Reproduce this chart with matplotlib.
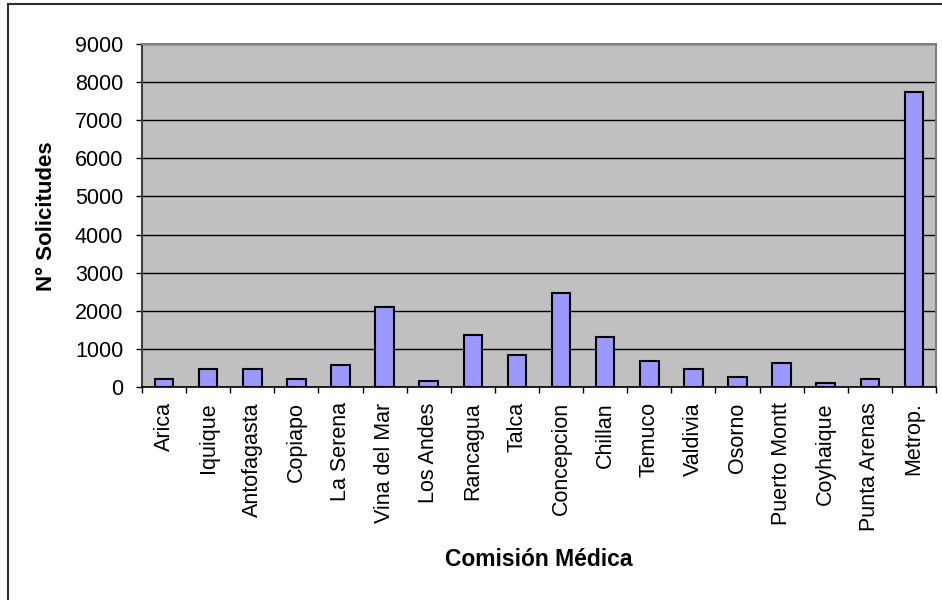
import matplotlib.pyplot as plt
from matplotlib.lines import Line2D

# datos
comisiones = ["Arica", "Iquique", "Antofagasta", "Copiapo", "La Serena",
              "Vina del Mar", "Los Andes", "Rancagua", "Talca", "Concepcion",
              "Chillan", "Temuco", "Valdivia", "Osorno", "Puerto Montt",
              "Coyhaique", "Punta Arenas", "Metrop."]
solicitudes = [200, 470, 470, 200, 570, 2100, 150, 1360, 830, 2470,
               1310, 680, 470, 250, 620, 100, 210, 7750]
y_ticks = list(range(0, 9001, 1000))

plt.rcParams['font.family'] = ['Liberation Sans', 'DejaVu Sans']

fig = plt.figure(figsize=(9.42, 6.0), dpi=100)
ax = fig.add_axes([142 / 942, 1 - 387 / 600, (936 - 142) / 942, (387 - 44) / 600])

x = list(range(len(comisiones)))
ax.bar(x, solicitudes, width=0.42, color='#9999FF', edgecolor='black',
       linewidth=1.5, zorder=3)

ax.set_facecolor('#C0C0C0')
ax.set_xlim(-0.5, len(comisiones) - 0.5)
ax.set_ylim(0, 9000)
ax.set_yticks(y_ticks)
ax.yaxis.grid(True, color='black', linewidth=1.0, zorder=1)
ax.set_axisbelow(True)

# ticks entre categorias
ax.set_xticks([i - 0.5 for i in x] + [len(x) - 0.5])
ax.set_xticklabels([])
ax.set_xticks(x, minor=True)
ax.set_xticklabels(comisiones, minor=True, rotation=90, fontsize=15.5)
ax.tick_params(axis='x', which='minor', length=0, pad=11)
ax.tick_params(axis='x', which='major', length=4.5, direction='out', width=1)
ax.tick_params(axis='y', length=4.5, direction='out', width=1, pad=9,
               labelsize=15.5)

for s in ['top', 'right']:
    ax.spines[s].set_color('#808080')
    ax.spines[s].set_linewidth(1.5)
ax.spines['left'].set_color('#404040')
ax.spines['left'].set_linewidth(1.5)
ax.spines['bottom'].set_color('black')
ax.spines['bottom'].set_linewidth(1.2)

fig.text(47 / 942, 1 - 216 / 600, "N° Solicitudes", rotation=90, ha='center',
         va='center', fontsize=16, fontweight='bold')
fig.text(539 / 942, 1 - 559 / 600, "Comisión Médica", ha='center',
         va='center', fontsize=16.5, fontweight='bold')

# borde exterior (solo izquierda y arriba visibles)
fig.add_artist(Line2D([8 / 942, 8 / 942], [0, 1 - 4 / 600],
                      transform=fig.transFigure, color='#303030', lw=1.5))
fig.add_artist(Line2D([8 / 942, 1], [1 - 4 / 600, 1 - 4 / 600],
                      transform=fig.transFigure, color='#303030', lw=1.5))

fig.savefig('out.png', dpi=100, facecolor='white')
